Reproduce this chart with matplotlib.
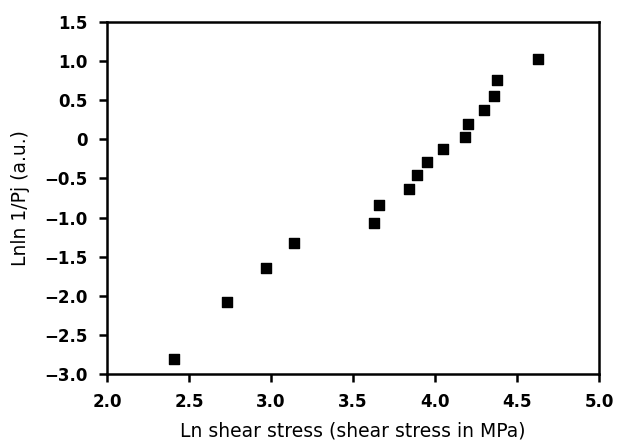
import numpy as np
import matplotlib
matplotlib.use('Agg')
import matplotlib.pyplot as plt
from matplotlib.ticker import FuncFormatter

plt.rcParams['font.family'] = ['DejaVu Sans']

ln_stress = [2.41, 2.73, 2.97, 3.14, 3.63, 3.66, 3.84, 3.89, 3.95, 4.05,
             4.18, 4.20, 4.30, 4.36, 4.38, 4.63]
lnln_pj = [-2.81, -2.08, -1.65, -1.33, -1.07, -0.84, -0.64, -0.46, -0.29, -0.12,
           0.03, 0.20, 0.37, 0.55, 0.76, 1.03]

xticks = [2.0, 2.5, 3.0, 3.5, 4.0, 4.5, 5.0]
yticks = [-3.0, -2.5, -2.0, -1.5, -1.0, -0.5, 0, 0.5, 1.0, 1.5]

fig = plt.figure(figsize=(6.18, 4.4), dpi=100)
ax = fig.add_axes([107/618, 1 - 374/440, (599-107)/618, (374-22)/440])

ax.scatter(ln_stress, lnln_pj, marker='s', s=55, color='black', zorder=3)

ax.set_xlim(2.0, 5.0)
ax.set_ylim(-3.0, 1.5)
ax.set_xticks(xticks)
ax.set_yticks(yticks)
ax.xaxis.set_major_formatter(FuncFormatter(lambda v, p: '%.1f' % v))
ax.yaxis.set_major_formatter(FuncFormatter(
    lambda v, p: '0' if abs(v) < 1e-9 else ('%.1f' % v).replace('-', '\u2212')))

for sp in ax.spines.values():
    sp.set_linewidth(1.8)

ax.tick_params(direction='out', length=6, width=1.8, labelsize=12,
               top=False, right=False)
ax.tick_params(axis='y', pad=8)
ax.tick_params(axis='x', pad=8)
for lab in ax.get_xticklabels() + ax.get_yticklabels():
    lab.set_fontweight('bold')

ax.set_xlabel('Ln shear stress (shear stress in MPa)', fontsize=13.5, labelpad=7)
ax.set_ylabel('Lnln 1/Pj (a.u.)', fontsize=13.5, labelpad=10)

fig.savefig('out.png', dpi=100)
